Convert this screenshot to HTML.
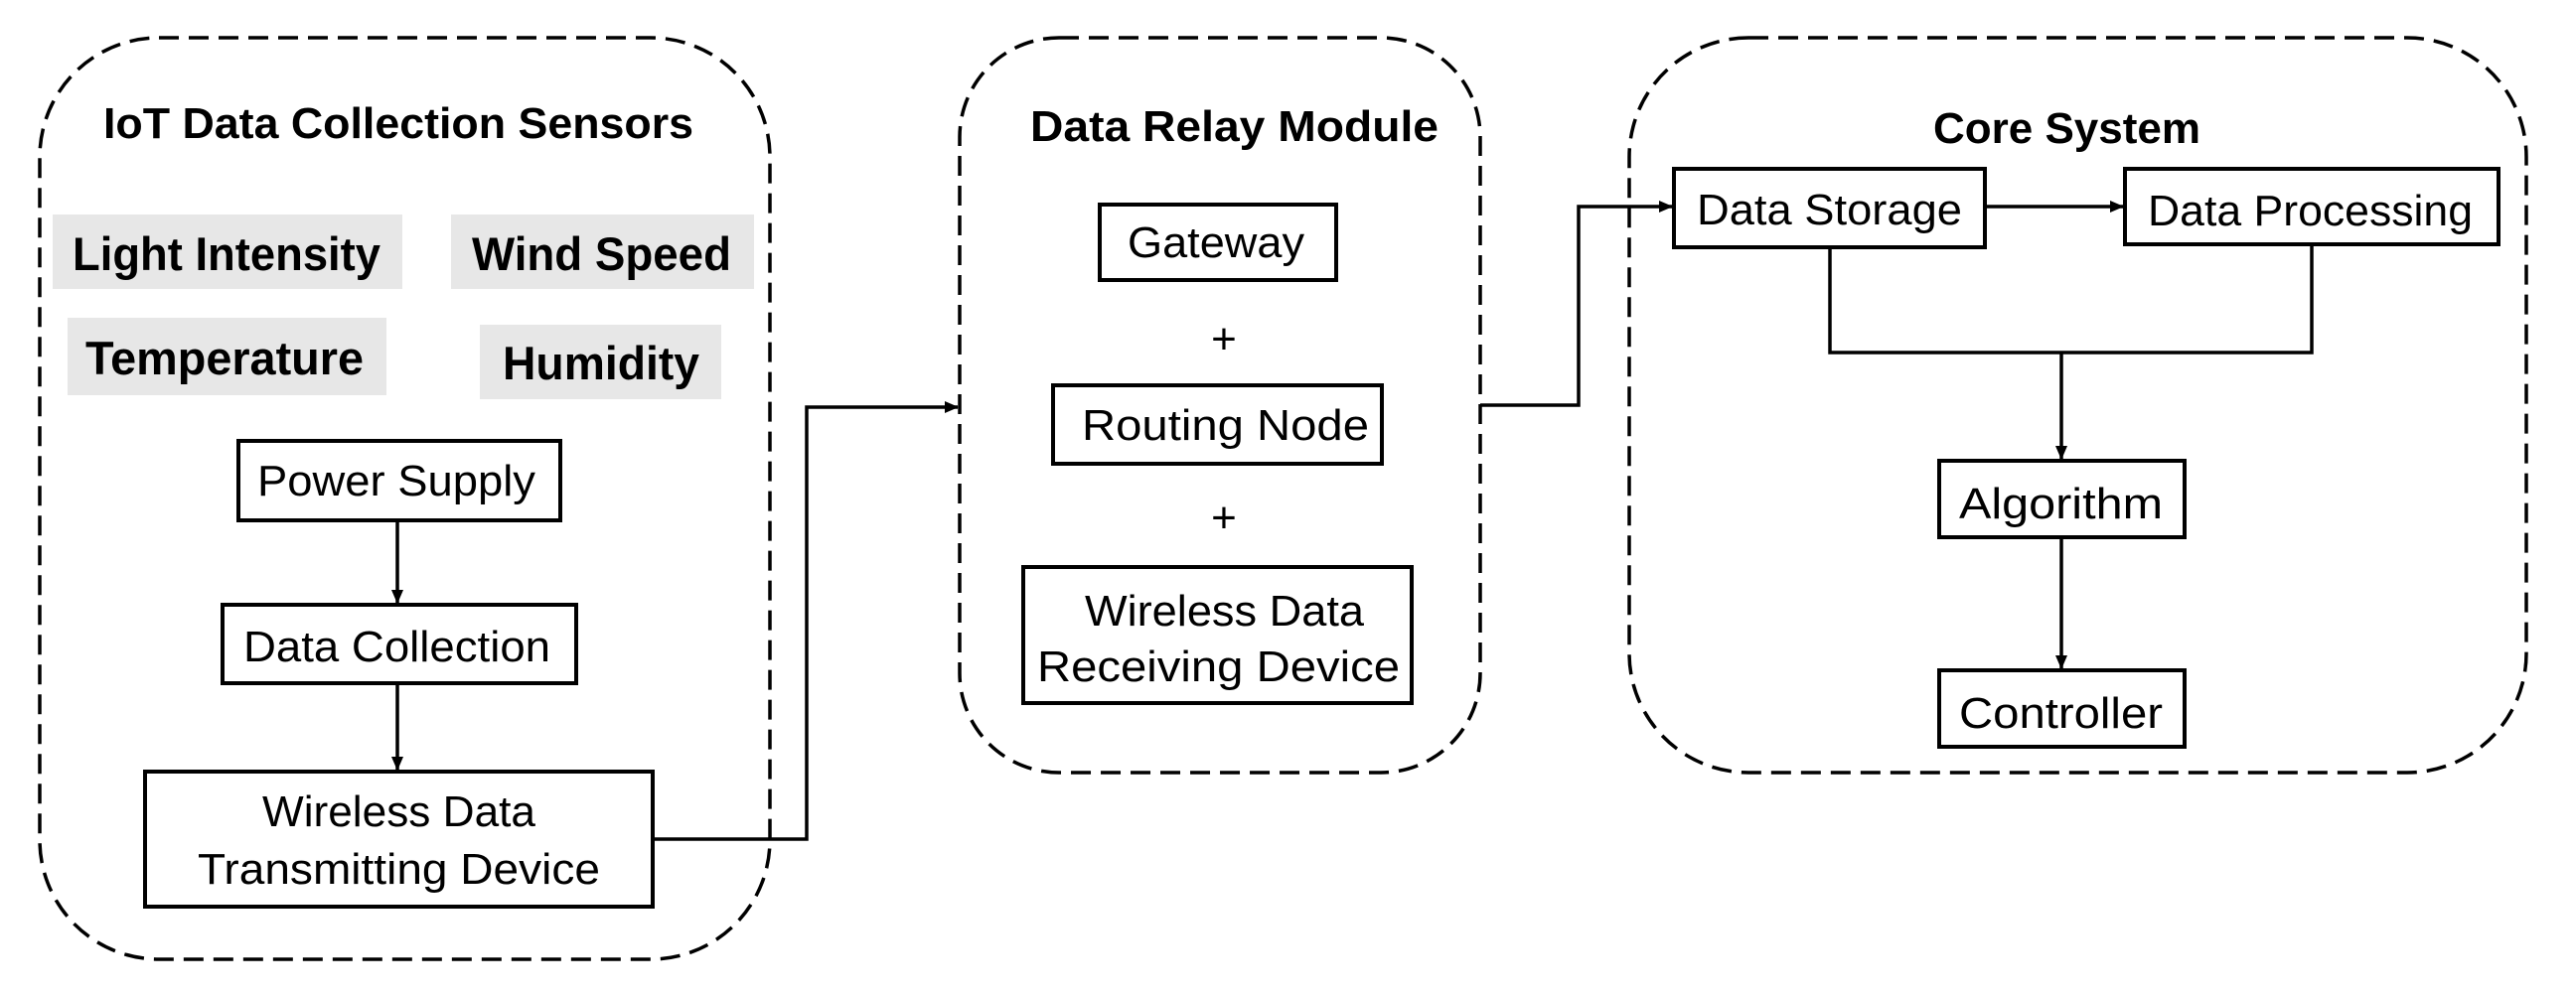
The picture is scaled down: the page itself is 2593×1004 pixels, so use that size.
<!DOCTYPE html>
<html><head><meta charset="utf-8"><style>html,body{margin:0;padding:0;background:#fff}svg{display:block}</style></head>
<body>
<svg width="2593" height="1004" viewBox="0 0 2593 1004" xmlns="http://www.w3.org/2000/svg" font-family="Liberation Sans, sans-serif">
<defs>
<marker id="a" markerWidth="8" markerHeight="8" refX="7" refY="4" orient="auto" markerUnits="userSpaceOnUse" viewBox="0 0 8 8"><path d="M0,0 L8,4 L0,8 z" fill="#000"/></marker>
<marker id="b" markerWidth="14" markerHeight="14" refX="13" refY="7" orient="auto" markerUnits="userSpaceOnUse" viewBox="0 0 14 14"><path d="M0,1 L14,7 L0,13 z" fill="#000"/></marker>
</defs>
<g fill="none" stroke="#000" stroke-width="3.5" stroke-dasharray="20 10">
<rect x="40" y="38" width="735" height="928" rx="120"/>
<rect x="966" y="38" width="524" height="740" rx="100"/>
<rect x="1640" y="38" width="903" height="740" rx="120"/>
</g>
<g fill="#e7e7e7">
<rect x="53" y="216" width="352" height="75"/>
<rect x="454" y="216" width="305" height="75"/>
<rect x="68" y="320" width="321" height="78"/>
<rect x="483" y="327" width="243" height="75"/>
</g>
<g fill="#fff" stroke="#000" stroke-width="4">
<rect x="240" y="444" width="324" height="80"/>
<rect x="224" y="609" width="356" height="79"/>
<rect x="146" y="777" width="511" height="136"/>
<rect x="1107" y="206" width="238" height="76"/>
<rect x="1060" y="388" width="331" height="79"/>
<rect x="1030" y="571" width="391" height="137"/>
<rect x="1685" y="170" width="313" height="79"/>
<rect x="2139" y="170" width="376" height="76"/>
<rect x="1952" y="464" width="247" height="77"/>
<rect x="1952" y="675" width="247" height="77"/>
</g>
<g fill="none" stroke="#000" stroke-width="3.5">
<line x1="400" y1="524" x2="400" y2="607" marker-end="url(#b)"/>
<line x1="400" y1="688" x2="400" y2="775" marker-end="url(#b)"/>
<polyline points="657,845 812,845 812,410 964,410" marker-end="url(#b)"/>
<polyline points="1490,408 1589,408 1589,208 1683,208" marker-end="url(#b)"/>
<line x1="1998" y1="208" x2="2137" y2="208" marker-end="url(#b)"/>
<polyline points="1842,249 1842,355 2327,355 2327,246"/>
<line x1="2075" y1="355" x2="2075" y2="462" marker-end="url(#b)"/>
<line x1="2075" y1="541" x2="2075" y2="673" marker-end="url(#b)"/>
</g>
<g font-weight="bold" font-size="44" fill="#000">
<text x="104" y="139" textLength="594" lengthAdjust="spacingAndGlyphs">IoT Data Collection Sensors</text>
<text x="1037" y="142" textLength="411" lengthAdjust="spacingAndGlyphs">Data Relay Module</text>
<text x="1946" y="144" textLength="269" lengthAdjust="spacingAndGlyphs">Core System</text>
<text x="73" y="272" font-size="47" textLength="310" lengthAdjust="spacingAndGlyphs">Light Intensity</text>
<text x="475" y="272" font-size="47" textLength="261" lengthAdjust="spacingAndGlyphs">Wind Speed</text>
<text x="86" y="377" font-size="47" textLength="280" lengthAdjust="spacingAndGlyphs">Temperature</text>
<text x="506" y="382" font-size="47" textLength="198" lengthAdjust="spacingAndGlyphs">Humidity</text>
</g>
<g font-size="44" fill="#000">
<text x="259" y="499" textLength="280" lengthAdjust="spacingAndGlyphs">Power Supply</text>
<text x="245" y="666" textLength="309" lengthAdjust="spacingAndGlyphs">Data Collection</text>
<text x="264" y="832" textLength="275" lengthAdjust="spacingAndGlyphs">Wireless Data</text>
<text x="199" y="890" textLength="405" lengthAdjust="spacingAndGlyphs">Transmitting Device</text>
<text x="1135" y="259" textLength="178" lengthAdjust="spacingAndGlyphs">Gateway</text>
<text x="1232" y="356" text-anchor="middle">+</text>
<text x="1089" y="443" textLength="289" lengthAdjust="spacingAndGlyphs">Routing Node</text>
<text x="1232" y="536" text-anchor="middle">+</text>
<text x="1092" y="630" textLength="281" lengthAdjust="spacingAndGlyphs">Wireless Data</text>
<text x="1044" y="686" textLength="365" lengthAdjust="spacingAndGlyphs">Receiving Device</text>
<text x="1708" y="226" textLength="267" lengthAdjust="spacingAndGlyphs">Data Storage</text>
<text x="2162" y="227" textLength="327" lengthAdjust="spacingAndGlyphs">Data Processing</text>
<text x="1972" y="522" textLength="205" lengthAdjust="spacingAndGlyphs">Algorithm</text>
<text x="1972" y="733" textLength="205" lengthAdjust="spacingAndGlyphs">Controller</text>
</g>
</svg>
</body></html>
